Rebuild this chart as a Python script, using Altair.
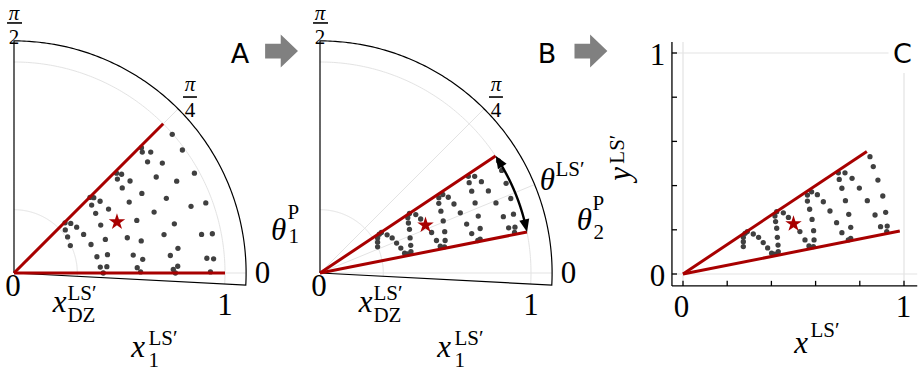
import altair as alt
import numpy as np
import pandas as pd

# ---------------- data ----------------
# Panel A: scattered samples (Cartesian x, y of the polar points)
A_X = [0.750, 0.798, 0.604, 0.608, 0.648, 0.633, 0.703, 0.855, 0.674, 0.771,
       0.486, 0.510, 0.490, 0.550, 0.513, 0.606, 0.722, 0.546, 0.909, 0.839,
       0.664, 0.360, 0.378, 0.408, 0.368, 0.387, 0.448, 0.242, 0.269, 0.297,
       0.243, 0.330, 0.254, 0.267, 0.365, 0.411, 0.433, 0.582, 0.760, 0.711,
       0.889, 0.940, 0.537, 0.603, 0.777, 0.393, 0.443, 0.565, 0.610, 0.741,
       0.914, 0.946, 0.409, 0.440, 0.584, 0.776, 0.755, 0.423, 0.600, 0.765,
       0.931]
A_Y = [0.657, 0.583, 0.594, 0.573, 0.573, 0.527, 0.521, 0.473, 0.455, 0.435,
       0.473, 0.468, 0.445, 0.436, 0.403, 0.377, 0.354, 0.336, 0.332, 0.316,
       0.289, 0.358, 0.357, 0.340, 0.322, 0.283, 0.303, 0.238, 0.235, 0.217,
       0.204, 0.183, 0.171, 0.130, 0.135, 0.227, 0.159, 0.249, 0.233, 0.182,
       0.183, 0.186, 0.167, 0.152, 0.117, 0.077, 0.087, 0.085, 0.065, 0.083,
       0.070, 0.067, 0.028, 0.030, 0.025, 0.032, 0.017, 0.000, 0.005, 0.000,
       0.005]
# Panels B and C: the same transformed samples (B polar, C Cartesian)
BC_X = [0.273, 0.273, 0.273, 0.281, 0.291, 0.318, 0.342, 0.363, 0.383, 0.401,
        0.416, 0.431, 0.430, 0.427, 0.424, 0.419, 0.416, 0.424, 0.454, 0.477,
        0.529, 0.552, 0.570, 0.590, 0.593, 0.591, 0.584, 0.573, 0.563, 0.563,
        0.582, 0.608, 0.635, 0.665, 0.695, 0.719, 0.748, 0.759, 0.759, 0.750,
        0.735, 0.719, 0.707, 0.703, 0.733, 0.765, 0.798, 0.834, 0.869, 0.894,
        0.922, 0.924, 0.917, 0.904, 0.882, 0.861, 0.846]
BC_Y = [0.124, 0.146, 0.166, 0.184, 0.192, 0.181, 0.166, 0.142, 0.118, 0.094,
        0.090, 0.101, 0.131, 0.166, 0.207, 0.237, 0.262, 0.282, 0.277, 0.256,
        0.192, 0.154, 0.127, 0.124, 0.154, 0.196, 0.247, 0.293, 0.330, 0.357,
        0.372, 0.359, 0.327, 0.285, 0.232, 0.187, 0.154, 0.161, 0.211, 0.270,
        0.332, 0.388, 0.428, 0.458, 0.458, 0.433, 0.389, 0.332, 0.267, 0.214,
        0.192, 0.217, 0.279, 0.353, 0.425, 0.486, 0.531]
STAR_A = [0.488, 0.242]
STAR_BC = [0.500, 0.227]
WEDGE_A_DEG = [0.0, 45.0]
WEDGE_BC_DEG = [11.2, 33.7]
WEDGE_LEN = 1.0
X_DZ = 0.3
R_MAX = 1.1
THETA_MIN_DEG = -3.0
THETA_LS_DEG = 22.4
C_TICKS = [0.0, 0.2, 0.4, 0.6, 0.8, 1.0]

# ---------------- style ----------------
SERIF = "'Liberation Serif', 'Times New Roman', 'DejaVu Serif', serif"
SANS = "'DejaVu Sans', sans-serif"
RED = "#a80000"
DOT = "#404040"
GRID = "#e3e3e3"
H = 373
MAIN = 31
SUB = 21

STAR = ("M0,-1L0.225,-0.309L0.951,-0.309L0.363,0.118L0.588,0.809L0,0.382"
        "L-0.588,0.809L-0.363,0.118L-0.951,-0.309L-0.225,-0.309Z")
BLOCK_ARROW = "M-1,-0.45L-0.05,-0.45L-0.05,-1L1,0L-0.05,1L-0.05,0.45L-1,0.45Z"
HEAD = "M0,-1L0.8,1L-0.8,1Z"


def make_scales(w, ox, ppu, oy):
    xs = alt.Scale(domain=[-ox / ppu, (w - ox) / ppu], nice=False, zero=False)
    ys = alt.Scale(domain=[-(H - oy) / ppu, oy / ppu], nice=False, zero=False)
    return xs, ys


def XY(xs, ys):
    return dict(x=alt.X("x:Q", scale=xs, axis=None), y=alt.Y("y:Q", scale=ys, axis=None))


def arc_pts(r, t0, t1, n=150):
    t = np.radians(np.linspace(t0, t1, n))
    return [float(v) for v in r * np.cos(t)], [float(v) for v in r * np.sin(t)]


def paths_layer(paths, xs, ys, color, width):
    rows = []
    for g, (px, py) in enumerate(paths):
        for i, (a, b) in enumerate(zip(px, py)):
            rows.append({"g": g, "i": i, "x": float(a), "y": float(b)})
    return alt.Chart(pd.DataFrame(rows)).mark_line(
        color=color, strokeWidth=width).encode(
        detail="g:N", order=alt.Order("i:Q"), **XY(xs, ys))


def text_layer(rows, xs, ys, size, italic=False, align="center", font=SERIF, angle=None):
    df = pd.DataFrame(rows, columns=["t", "x", "y"])
    kw = dict(font=font, fontSize=size, align=align, baseline="alphabetic", color="black")
    if italic:
        kw["fontStyle"] = "italic"
    if angle is not None:
        kw["angle"] = angle
    return alt.Chart(df).mark_text(**kw).encode(text="t:N", **XY(xs, ys))


def dots_layer(px, py, xs, ys):
    return alt.Chart(pd.DataFrame({"x": px, "y": py})).mark_circle(
        size=28, color=DOT, opacity=1).encode(**XY(xs, ys))


def star_layer(s, xs, ys):
    return alt.Chart(pd.DataFrame({"x": [s[0]], "y": [s[1]]})).mark_point(
        shape=STAR, filled=True, size=300, color=RED, opacity=1, strokeWidth=0).encode(**XY(xs, ys))


def wedge_layer(degs, xs, ys):
    paths = []
    for d in degs:
        t = np.radians(d)
        paths.append(([0.0, WEDGE_LEN * np.cos(t)], [0.0, WEDGE_LEN * np.sin(t)]))
    return paths_layer(paths, xs, ys, RED, 3)


def gray_arrow(pos, xs, ys):
    return alt.Chart(pd.DataFrame({"x": [pos[0]], "y": [pos[1]]})).mark_point(
        shape=BLOCK_ARROW, filled=True, size=1080, color="#808080", opacity=1,
        strokeWidth=0).encode(**XY(xs, ys))


def bars_layer(bars, xs, ys):
    df = pd.DataFrame(bars, columns=["x", "x2", "y"])
    return alt.Chart(df).mark_rule(color="black", strokeWidth=1.6).encode(
        x=alt.X("x:Q", scale=xs, axis=None), x2="x2:Q", y=alt.Y("y:Q", scale=ys, axis=None))


def polar_panel(w, ox, px, py, star, wedge, theta_grid, extra_it, extra_sup, extra_sub,
                letter, arrow_pos):
    xs, ys = make_scales(w, ox, 211, 273)
    layers = []
    grid = [arc_pts(X_DZ, THETA_MIN_DEG, 90), arc_pts(1.0, THETA_MIN_DEG, 90)]
    for d in theta_grid:
        t = np.radians(d)
        grid.append(([0.0, R_MAX * np.cos(t)], [0.0, R_MAX * np.sin(t)]))
    layers.append(paths_layer(grid, xs, ys, GRID, 1))
    ax, ay = arc_pts(R_MAX, 90, THETA_MIN_DEG)
    frame = ([0.0] + ax + [0.0], [0.0] + ay + [0.0])
    layers.append(paths_layer([frame], xs, ys, "black", 1.2))
    layers.append(dots_layer(px, py, xs, ys))
    layers.append(wedge_layer(wedge, xs, ys))
    layers.append(star_layer(star, xs, ys))
    layers.append(text_layer([("0", -0.005, -0.109), ("1", 1.0, -0.199), ("0", 1.178, -0.047)], xs, ys, MAIN))
    layers.append(text_layer([("x", 0.216, -0.185), ("x", 0.588, -0.398)] + extra_it, xs, ys, MAIN, italic=True))
    # superscripts
    layers.append(text_layer([("LS′", 0.253, -0.128), ("LS′", 0.637, -0.341)] + extra_sup,
                             xs, ys, SUB, align="left"))
    # subscripts
    layers.append(text_layer([("DZ", 0.253, -0.234), ("1", 0.637, -0.445)] + extra_sub,
                             xs, ys, SUB, align="left"))
    # fractions pi/2 and pi/4
    layers.append(text_layer([("π", 0.0, 1.201), ("π", 0.834, 0.862)], xs, ys, SUB, italic=True))
    layers.append(text_layer([("2", 0.0, 1.086), ("4", 0.834, 0.741)], xs, ys, SUB))
    layers.append(bars_layer([(-0.033, 0.038, 1.185), (0.801, 0.867, 0.834)], xs, ys))
    layers.append(text_layer([letter], xs, ys, 27, font=SANS))
    layers.append(gray_arrow(arrow_pos, xs, ys))
    return layers, xs, ys


# ---- Panel A ----
layA, xsA, ysA = polar_panel(
    300, 14, A_X, A_Y, STAR_A, WEDGE_A_DEG, [0.0, 45.0],
    [("θ", 1.254, 0.156)], [("P", 1.296, 0.258)], [("1", 1.301, 0.140)],
    ("A", 1.071, 0.995), (1.268, 1.052))
panelA = alt.layer(*layA).properties(width=300, height=H)

# ---- Panel B ----
layB, xsB, ysB = polar_panel(
    310, 20, BC_X, BC_Y, STAR_BC, WEDGE_BC_DEG, [0.0, THETA_LS_DEG, 45.0],
    [("θ", 1.078, 0.393), ("θ", 1.253, 0.204)],
    [("LS′", 1.116, 0.458), ("P", 1.291, 0.298)], [("2", 1.296, 0.163)],
    ("B", 1.076, 0.995), (1.284, 1.052))
lo, hi = WEDGE_BC_DEG
layB.append(paths_layer([arc_pts(1.0, lo + 2.0, hi - 2.0)], xsB, ysB, "black", 2.4))
heads = []
for d, ang in [(hi - 1.7, 360 - (hi - 1.7)), (lo + 1.7, 180 - (lo + 1.7))]:
    t = np.radians(d)
    heads.append({"x": float(np.cos(t)), "y": float(np.sin(t)), "a": float(ang)})
layB.append(alt.Chart(pd.DataFrame(heads)).mark_point(
    shape=HEAD, filled=True, size=160, color="black", opacity=1, strokeWidth=0).encode(
    angle=alt.Angle("a:Q", scale=None), **XY(xsB, ysB)))
panelB = alt.layer(*layB).properties(width=310, height=H)

# ---- Panel C ----
xsC, ysC = make_scales(312, 73, 221, 274)
layC = []
grid_rows = [(0.0, 0.0, -0.05, 1.05), (1.0, 1.0, -0.054, 0.91),
             (-0.05, 1.06, 0.0, 0.0), (-0.05, 0.93, 1.0, 1.0)]
gdf = pd.DataFrame(grid_rows, columns=["x", "x2", "y", "y2"])
layC.append(alt.Chart(gdf).mark_rule(color=GRID, strokeWidth=1.2).encode(
    x=alt.X("x:Q", scale=xsC, axis=None), x2="x2:Q",
    y=alt.Y("y:Q", scale=ysC, axis=None), y2="y2:Q"))
axis_rows = [(-0.05, -0.05, -0.054, 1.05), (-0.05, 1.06, -0.054, -0.054)]
for v in C_TICKS:
    axis_rows.append((-0.05, -0.027, v, v))
    axis_rows.append((v, v, -0.054, -0.031))
adf = pd.DataFrame(axis_rows, columns=["x", "x2", "y", "y2"])
layC.append(alt.Chart(adf).mark_rule(color="black", strokeWidth=1.3).encode(
    x=alt.X("x:Q", scale=xsC, axis=None), x2="x2:Q",
    y=alt.Y("y:Q", scale=ysC, axis=None), y2="y2:Q"))
layC.append(dots_layer(BC_X, BC_Y, xsC, ysC))
layC.append(wedge_layer(WEDGE_BC_DEG, xsC, ysC))
layC.append(star_layer(STAR_BC, xsC, ysC))
layC.append(text_layer([("1", -0.115, 0.946), ("0", -0.115, -0.054),
                        ("0", -0.007, -0.195), ("1", 0.998, -0.195)], xsC, ysC, MAIN))
layC.append(text_layer([("x", 0.534, -0.357)], xsC, ysC, MAIN, italic=True))
layC.append(text_layer([("LS′", 0.577, -0.283)], xsC, ysC, SUB, align="left"))
layC.append(text_layer([("y", -0.238, 0.453)], xsC, ysC, MAIN, italic=True, angle=270))
layC.append(text_layer([("LS′", -0.267, 0.565)], xsC, ysC, SUB, angle=270))
layC.append(text_layer([("C", 0.993, 0.955)], xsC, ysC, 27, font=SANS))
panelC = alt.layer(*layC).properties(width=312, height=H)

chart = alt.hconcat(panelA, panelB, panelC, spacing=0, bounds="flush").properties(
    padding=0).configure_view(stroke=None)

chart.save("out.html", embed_options={"renderer": "svg", "actions": False})
